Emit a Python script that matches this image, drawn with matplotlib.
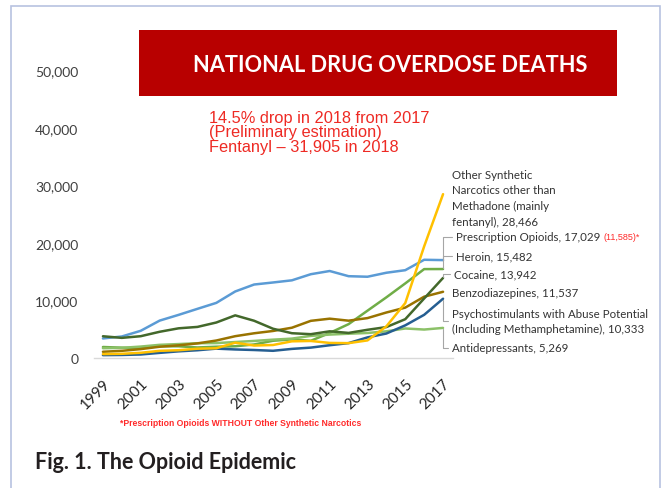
import matplotlib
matplotlib.use('Agg')
import matplotlib.pyplot as plt
from matplotlib.patches import Rectangle

# 年份与各药物致死人数
years = list(range(1999, 2018))
rx_opioids = [3442, 3785, 4770, 6536, 7528, 8577, 9612, 11589, 12796, 13149,
              13523, 14583, 15140, 14240, 14145, 14838, 15281, 17087, 17029]
synthetic = [730, 782, 957, 1295, 1400, 1664, 1742, 2707, 2213, 2306,
             2946, 3007, 2666, 2628, 3105, 5544, 9580, 19413, 28466]
heroin = [1960, 1842, 1779, 2089, 2080, 1878, 2009, 2088, 2399, 3041,
          3278, 3036, 4397, 5925, 8257, 10574, 12989, 15469, 15482]
cocaine = [3822, 3544, 3833, 4599, 5199, 5443, 6208, 7448, 6512, 5129,
           4350, 4183, 4681, 4404, 4944, 5415, 6784, 10375, 13942]
benzo = [1135, 1298, 1594, 2007, 2248, 2585, 3083, 3835, 4340, 4740,
         5303, 6497, 6872, 6524, 6973, 7945, 8791, 10684, 11537]
psycho = [547, 578, 660, 942, 1206, 1395, 1676, 1535, 1438, 1302,
          1631, 1854, 2266, 2635, 3627, 4298, 5716, 7542, 10333]
antidep = [1749, 1814, 2035, 2336, 2468, 2617, 2640, 2820, 3012, 3231,
           3413, 3889, 4114, 4262, 4391, 4678, 5174, 4987, 5269]

series = [
    (rx_opioids, '#5B9BD5'),
    (heroin, '#70AD47'),
    (antidep, '#8CC168'),
    (benzo, '#997300'),
    (cocaine, '#43682B'),
    (psycho, '#255E91'),
    (synthetic, '#FFC000'),
]

W, H = 663, 489
fig = plt.figure(figsize=(W / 100, H / 100), dpi=100)

# 外框
fig.patches.append(Rectangle((11 / W, -0.1), (660 - 11) / W, 1.1 - 7 / H,
                             transform=fig.transFigure, fill=False,
                             edgecolor='#b8c2e0', lw=1.2))

ax = fig.add_axes([93.5 / W, (H - 359.3) / H, 359 / W, 288.3 / H])
for vals, col in series:
    ax.plot(years, vals, color=col, lw=1.8, solid_capstyle='round')

ax.set_xlim(1998.5, 2017.5)
ax.set_ylim(0, 50000)
ax.set_yticks(range(0, 50001, 10000))
ax.set_yticklabels([f'{v:,}' for v in range(0, 50001, 10000)],
                   fontfamily='Lato', fontsize=10, color='#404040')
xt = years[::2]
ax.set_xticks(xt)
ax.set_xticklabels([str(y) for y in xt], rotation=45, ha='right',
                   rotation_mode='anchor', fontfamily='Lato', fontsize=11,
                   color='#262626')
ax.tick_params(length=0)
ax.tick_params(axis='y', pad=11)
ax.tick_params(axis='x', pad=13)
for s in ['top', 'right', 'left']:
    ax.spines[s].set_visible(False)
ax.spines['bottom'].set_color('#d9d9d9')
ax.spines['bottom'].set_linewidth(1)

# 右侧标签
lab_font = dict(fontfamily='Lato', fontsize=8.3, color='#333333')
leader = dict(arrowstyle='-', color='#a6a6a6', lw=0.8, shrinkA=1, shrinkB=1,
              relpos=(0, 0.5), connectionstyle='angle,angleA=0,angleB=90,rad=0')

ax.annotate('Other Synthetic\nNarcotics other than\nMethadone (mainly\nfentanyl), 28,466',
            xy=(2017, synthetic[-1]), xytext=(452, H - 199), textcoords='figure pixels',
            va='center', ha='left', linespacing=1.55, **lab_font)
ax.annotate('Prescription Opioids, 17,029', xy=(2017, rx_opioids[-1]),
            xytext=(456, H - 238), textcoords='figure pixels',
            va='center', ha='left', arrowprops=leader, **lab_font)
fig.text(603 / W, (H - 238) / H, '(11,585)*', va='center', ha='left',
         fontfamily='Liberation Sans', fontsize=6.5, color='#ff2a2a')
ax.annotate('Heroin, 15,482', xy=(2017, heroin[-1]), xytext=(456, H - 257),
            textcoords='figure pixels', va='center', ha='left',
            arrowprops=leader, **lab_font)
ax.annotate('Cocaine, 13,942', xy=(2017, cocaine[-1]), xytext=(454, H - 275),
            textcoords='figure pixels', va='center', ha='left',
            arrowprops=leader, **lab_font)
ax.annotate('Benzodiazepines, 11,537', xy=(2017, benzo[-1]), xytext=(452, H - 294),
            textcoords='figure pixels', va='center', ha='left', **lab_font)
ax.annotate('Psychostimulants with Abuse Potential\n(Including Methamphetamine), 10,333',
            xy=(2017, psycho[-1]), xytext=(452, H - 322), textcoords='figure pixels',
            va='center', ha='left', linespacing=1.5, arrowprops=leader, **lab_font)
ax.annotate('Antidepressants, 5,269', xy=(2017, antidep[-1]), xytext=(452, H - 349),
            textcoords='figure pixels', va='center', ha='left',
            arrowprops=leader, **lab_font)

# 标题横幅
fig.patches.append(Rectangle((139 / W, (H - 97) / H), 478 / W, 66 / H,
                             transform=fig.transFigure, facecolor='#b80000',
                             edgecolor='none'))
fig.text(390 / W, (H - 65) / H, 'NATIONAL DRUG OVERDOSE DEATHS', ha='center',
         va='center', color='white', fontfamily='Lato', fontweight='bold',
         fontsize=15.7)

# 红色注释
fig.text(209 / W, (H - 133) / H,
         '14.5% drop in 2018 from 2017\n(Preliminary estimation)\nFentanyl \u2013 31,905 in 2018',
         ha='left', va='center', color='#ee2a24', fontfamily='Liberation Sans',
         fontsize=11.8, linespacing=0.95)

fig.text(120 / W, (H - 424) / H, '*Prescription Opioids WITHOUT Other Synthetic Narcotics',
         ha='left', va='center', color='#ff2a2a', fontfamily='Liberation Sans',
         fontweight='bold', fontsize=6.2)

fig.text(35 / W, (H - 463) / H, 'Fig. 1. The Opioid Epidemic', ha='left', va='center',
         color='#231f20', fontfamily='Lato', fontweight='bold', fontsize=15.5)

fig.savefig('out.png', dpi=100)
